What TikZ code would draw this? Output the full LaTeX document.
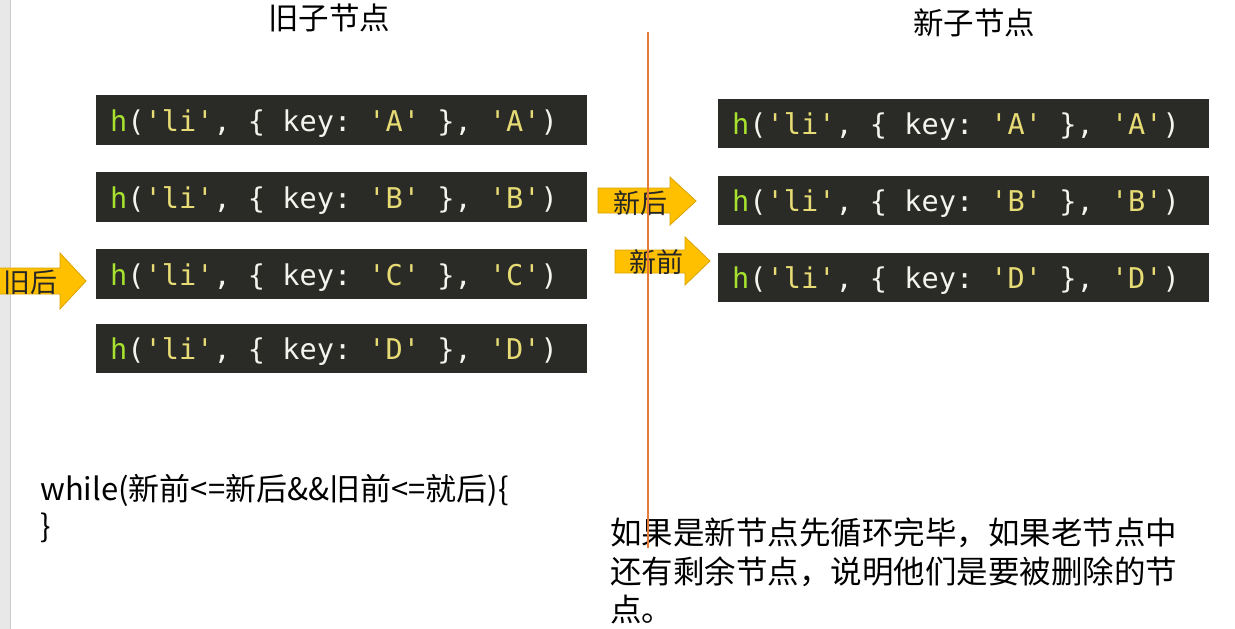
\documentclass[tikz,border=0pt]{standalone}
\usepackage{fontspec}
\setmainfont{Noto Sans CJK SC}
\setmonofont{DejaVu Sans Mono}
\definecolor{codebg}{HTML}{2A2A27}
\definecolor{cgreen}{HTML}{A6E22E}
\definecolor{cyellow}{HTML}{E6DB74}
\definecolor{cwhite}{HTML}{F4F4EE}
\definecolor{gold}{HTML}{FFC000}
\definecolor{goldedge}{HTML}{D9A200}
\definecolor{sepline}{HTML}{E87A38}
\definecolor{stripgrey}{HTML}{E8E8E8}
\newcommand\msp{\hspace*{0.6021em}}
\newcommand\hli[1]{\textcolor{cgreen}{h}(\textcolor{cyellow}{'li'},\msp\{\msp{}key:\msp\textcolor{cyellow}{'#1'}\msp\},\msp\textcolor{cyellow}{'#1'})}
\tikzset{
  codebox/.style={fill=codebg, minimum width=491pt, minimum height=50pt, anchor=north west,
    inner xsep=14pt, inner ysep=0pt, text width=463pt, align=left,
    text height=24pt, text depth=2pt,
    font=\ttfamily\fontsize{28.6}{30}\selectfont, text=cwhite},
  title/.style={font=\fontsize{30.5}{34}\selectfont, text=black},
  arrowlabel/.style={font=\fontsize{27}{30}\selectfont, text=black!85, inner sep=0pt},
  goldarrow/.style={fill=gold, draw=goldedge, line width=0.8pt, line join=miter},
  plain/.style={anchor=north west, inner sep=0pt, align=left, text=black}
}
\begin{document}
\begin{tikzpicture}[x=1pt,y=-1pt]
\useasboundingbox (0,0) rectangle (1235,629);
\fill[white] (0,0) rectangle (1235,629);
\fill[stripgrey] (0,0) rectangle (10,629);
\draw[black!20, line width=0.8pt] (10,0) -- (10,629);

% titles
\node[title] (oldtitle) at (329,18) {旧子节点};
\node[title] (newtitle) at (974,23) {新子节点};

% old children
\node[codebox] (oA) at (96,95)  {\hli{A}};
\node[codebox] (oB) at (96,172) {\hli{B}};
\node[codebox] (oC) at (96,249) {\hli{C}};
\node[codebox, minimum height=49pt] (oD) at (96,324) {\hli{D}};

% new children
\node[codebox, minimum height=49pt] (nA) at (718,99)  {\hli{A}};
\node[codebox, minimum height=49pt] (nB) at (718,176) {\hli{B}};
\node[codebox, minimum height=49pt] (nD) at (718,253) {\hli{D}};

% arrows
\draw[goldarrow] (-2,268) -- (60,268) -- (60,253) -- (86,281) -- (60,309) -- (60,294) -- (-2,294) -- cycle;
\node[arrowlabel] (oldEnd) at (30,282) {旧后};

\draw[goldarrow] (598,188) -- (670,188) -- (670,177) -- (696,201) -- (670,225) -- (670,213) -- (598,213) -- cycle;
\node[arrowlabel] (newEnd) at (640,203) {新后};

\draw[goldarrow] (615,250) -- (685,250) -- (685,237) -- (710,261) -- (685,285) -- (685,273) -- (615,273) -- cycle;
\node[arrowlabel] (newStart) at (656,262) {新前};

% while text
\node[plain, font=\fontsize{31}{37}\selectfont] (loop) at (40,474) {while(新前<=新后\&\&旧前<=就后)\{\\\}};

% explanation
\node[plain, font=\fontsize{31.5}{38.5}\selectfont] (note) at (610,518) {如果是新节点先循环完毕，如果老节点中\\还有剩余节点，说明他们是要被删除的节\\点。};

% separator
\coordinate (sepTop) at (648,32);
\coordinate (sepBot) at (648,548);
\draw[sepline, line width=2.6pt] (sepTop) -- (sepBot);
\end{tikzpicture}
\end{document}
